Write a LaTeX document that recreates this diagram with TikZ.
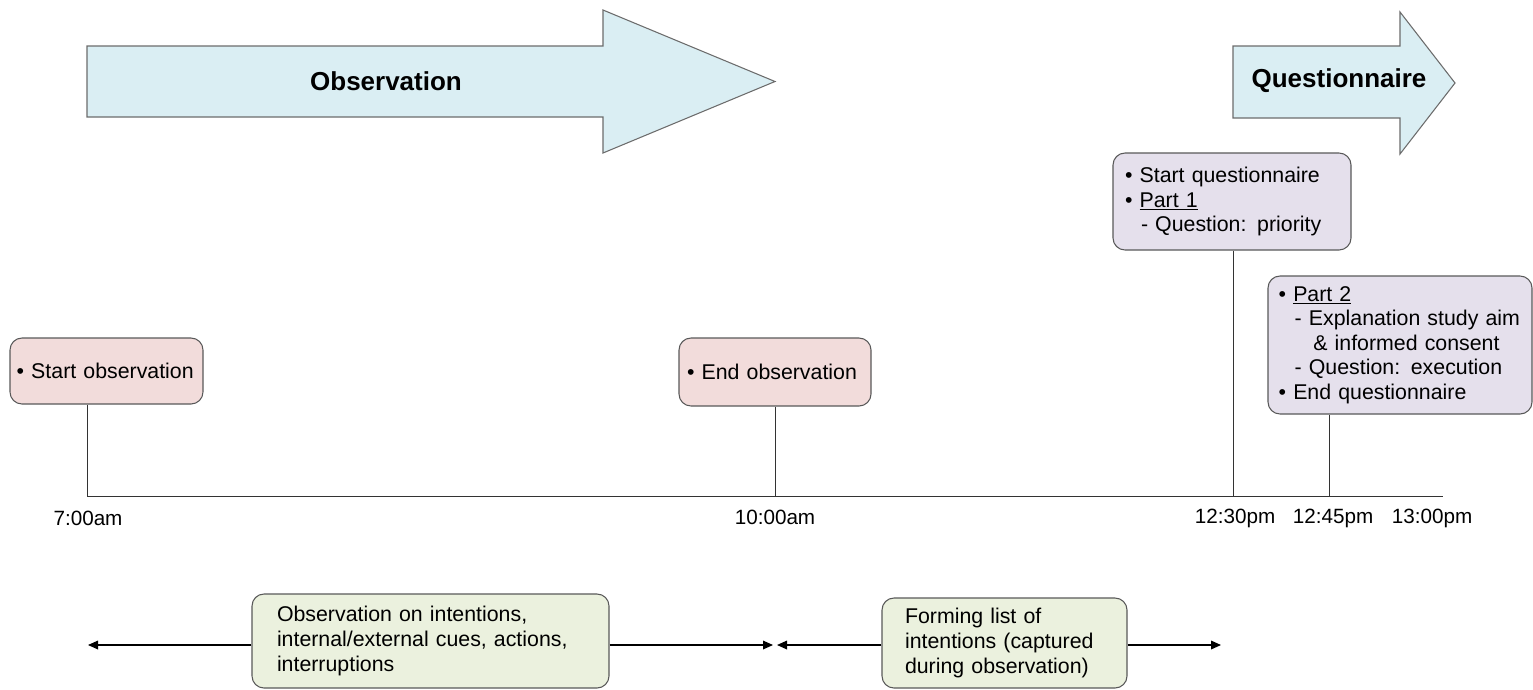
\documentclass[tikz,border=0pt]{standalone}
\usepackage{fontspec}
\setmainfont{Liberation Sans}
\usepackage{tikz}
\usetikzlibrary{arrows.meta, calc}

\definecolor{phaseblue}{HTML}{DAEEF3}
\definecolor{obspink}{HTML}{F2DCDB}
\definecolor{qpurple}{HTML}{E5E0EC}
\definecolor{notegreen}{HTML}{EBF1DE}
\definecolor{edgegray}{HTML}{595959}

\begin{document}
\begin{tikzpicture}[
    x=0.75pt, y=-0.75pt,
    every node/.style={font=\fontsize{16}{18.4}\selectfont},
    phase/.style={draw=gray!85!black, fill=phaseblue, line width=0.8pt},
    phaselabel/.style={font=\fontsize{19.5}{24}\selectfont\bfseries},
    event/.style={draw=edgegray, rounded corners=9pt, align=left, line width=0.8pt},
    note/.style={event, fill=notegreen},
    tick/.style={draw=black!80, line width=0.75pt},
    span/.style={-{Triangle[length=7.5pt,width=6.5pt]}, line width=0.9pt},
    timelabel/.style={font=\fontsize{15.5}{18}\selectfont}
]
    \useasboundingbox (0,0) rectangle (1533,689);

    % Phase arrows on top
    \draw[phase] (87,46) -- (603,46) -- (603,10) -- (775,81.5) -- (603,153) -- (603,117) -- (87,117) -- cycle;
    \node[phaselabel] (obsTitle) at (386,81) {Observation};
    \draw[phase] (1233,46) -- (1400,46) -- (1400,12) -- (1455,83) -- (1400,154) -- (1400,118) -- (1233,118) -- cycle;
    \node[phaselabel] (qTitle) at (1339,81) {Questionnaire};

    % Events
    \node[event, fill=obspink, inner xsep=5pt, text width=134.75pt, minimum height=49.5pt] (startObs) at (106.5,371) {• Start observation};
    \node[event, fill=obspink, inner xsep=6pt, text width=132pt, minimum height=51pt] (endObs) at (775,372) {• End observation};
    \node[event, fill=qpurple, inner xsep=9pt, text width=160.5pt, minimum height=72.75pt] (startQ) at (1232,201.5)
        {• Start questionnaire\\
         • \underline{Part 1}\\
         \hspace*{12pt}- Question: priority};
    \node[event, fill=qpurple, inner xsep=8pt, text width=182pt, minimum height=103.5pt] (partTwo) at (1400,345)
        {• \underline{Part 2}\\
         \hspace*{12pt}- Explanation study aim\\
         \hspace*{26pt}\& informed consent\\
         \hspace*{12pt}- Question: execution\\
         • End questionnaire};

    % Time line
    \coordinate (t7) at (87,496);
    \coordinate (t10) at (775,496);
    \coordinate (t1230) at (1233,496);
    \coordinate (t1245) at (1329,496);
    \coordinate (tEnd) at (1443,496);
    \draw[tick] (t7) -- (tEnd);
    \draw[tick] (startObs.south -| t7) -- (t7);
    \draw[tick] (endObs.south -| t10) -- (t10);
    \draw[tick] (startQ.south -| t1230) -- (t1230);
    \draw[tick] (partTwo.south -| t1245) -- (t1245);

    \node[timelabel] (l7) at (88,518) {7:00am};
    \node[timelabel] (l10) at (775,517) {10:00am};
    \node[timelabel] (l1230) at (1235,518) {12:30pm};
    \node[timelabel] (l1245) at (1333,518) {12:45pm};
    \node[timelabel] (l1300) at (1432,518) {13:00pm};

    % Activities below
    \node[note, inner xsep=18.75pt, text width=230.25pt, minimum height=70.5pt] (obsNote) at (430.5,641)
        {Observation on intentions,\\
         internal/external cues, actions,\\
         interruptions};
    \node[note, inner xsep=17.25pt, text width=149.25pt, minimum height=67.5pt] (listNote) at (1004.5,643)
        {Forming list of\\
         intentions (captured\\
         during observation)};

    \coordinate (b7) at (88,645);
    \coordinate (b10a) at (773,645);
    \coordinate (b10b) at (777,645);
    \coordinate (b1230) at (1221,645);
    \draw[span] (obsNote.west |- b7) -- (b7);
    \draw[span] (obsNote.east |- b7) -- (b10a);
    \draw[span] (listNote.west |- b7) -- (b10b);
    \draw[span] (listNote.east |- b7) -- (b1230);
\end{tikzpicture}
\end{document}
